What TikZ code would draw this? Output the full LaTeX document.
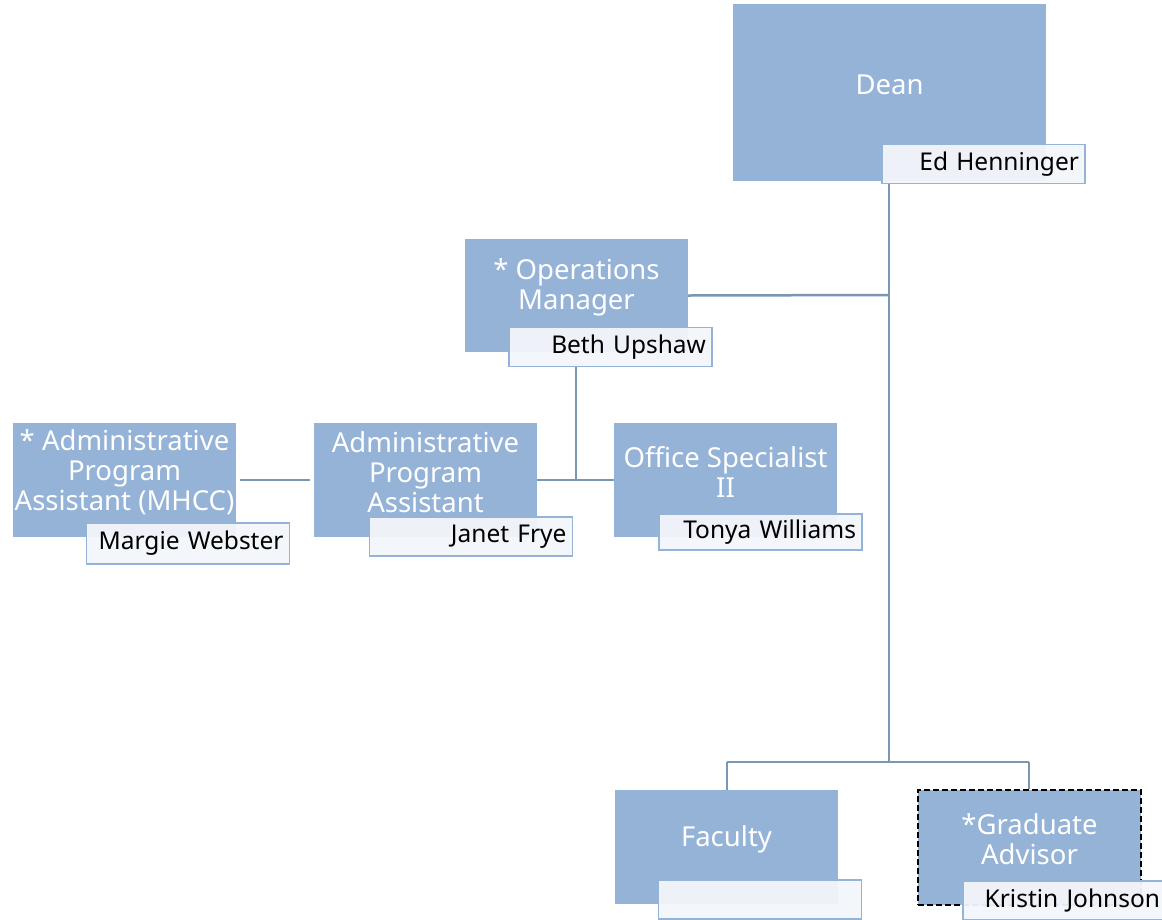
\documentclass[tikz,border=0pt]{standalone}
\usepackage{fontspec}
\setmainfont{Noto Sans}
\definecolor{boxblue}{HTML}{95B3D7}
\definecolor{linec}{HTML}{7A96B2}
\definecolor{namefill}{HTML}{F3F6FA}
\begin{document}
\begin{tikzpicture}[x=1pt,y=-1pt,
  role/.style={fill=boxblue, draw=none, inner sep=0pt},
  roletext/.style={text=white, font=\fontsize{27.5}{30}\selectfont, align=center, inner sep=0pt},
  namebox/.style={draw=boxblue, line width=1.5pt, fill=namefill, fill opacity=0.95, text opacity=1,
    minimum width=203pt, minimum height=39pt, text width=191pt, inner xsep=6pt, inner ysep=0pt,
    align=right, font=\fontsize{24.5}{28}\selectfont, text=black},
  conn/.style={draw=linec, line width=2.5pt}]
\useasboundingbox (0,0) rectangle (1162,919);
\fill[white] (0,0) rectangle (1162,919);

\coordinate (j1) at (889,295);
\coordinate (j2) at (889,762);
\coordinate (j3) at (576,479);
\coordinate (jl) at (727,762);
\coordinate (jr) at (1029,762);

% Dean
\node[role, minimum width=313pt, minimum height=177pt] (dean) at (889.5,92.5) {};
\node[roletext] (deant) at ([yshift=8pt]dean.center) {Dean};

% Operations Manager
\node[role, minimum width=223pt, minimum height=113pt] (ops) at (576.5,295.5) {};
\node[roletext] (opst) at ([yshift=8pt]ops.center) {* Operations\\Manager};

% Admin MHCC
\node[role, minimum width=223pt, minimum height=114pt] (mhcc) at (124.5,480) {};
\node[roletext] (mhcct) at ([yshift=8pt]mhcc.center) {* Administrative\\Program\\Assistant (MHCC)};

% Admin Program Assistant
\node[role, minimum width=223pt, minimum height=114pt] (apa) at (425.5,480) {};
\node[roletext] (apat) at ([yshift=8pt]apa.center) {Administrative\\Program\\Assistant};

% Office Specialist II
\node[role, minimum width=223pt, minimum height=114pt] (os) at (725.5,480) {};
\node[roletext] (ost) at ([yshift=8pt]os.center) {Office Specialist\\II};

% Faculty
\node[role, minimum width=223pt, minimum height=114pt] (fac) at (726.5,847) {};
\node[roletext] (fact) at ([yshift=8pt]fac.center) {Faculty};

% Graduate Advisor
\node[role, minimum width=223pt, minimum height=115pt, draw=black, dash pattern=on 6pt off 3pt, line width=2pt] (grad) at (1029.5,847.5) {};
\node[roletext] (gradt) at ([yshift=8pt]grad.center) {*Graduate\\Advisor};

% name boxes
\node[namebox] (deann) at (983.5,164) {Ed Henninger};
\node[namebox] (opsn) at (610.5,347) {Beth Upshaw};
\node[namebox, minimum height=41pt] (mhccn) at (188,543.5) {Margie Webster};
\node[namebox] (apan) at (471,536.5) {Janet Frye};
\node[namebox, minimum height=36pt] (osn) at (760.5,532) {Tonya Williams};
\node[namebox] (facn) at (760,899.5) {};
\node[namebox] (gradn) at (1064.5,900.5) {Kristin Johnson};

% connectors
\draw[conn] (deann.south -| j1) -- (j2);
\draw[conn] (ops.east) -- (j1);
\draw[conn] (opsn.south -| j3) -- (j3);
\draw[conn] (apa.east) -- (os.west);
\draw[conn, shorten <=4pt, shorten >=4pt] (mhcc.east) -- (apa.west);
\draw[conn] (jl) -- (jr);
\draw[conn] (jl) -- (fac.north -| jl);
\draw[conn] (jr) -- (grad.north -| jr);
\end{tikzpicture}
\end{document}
